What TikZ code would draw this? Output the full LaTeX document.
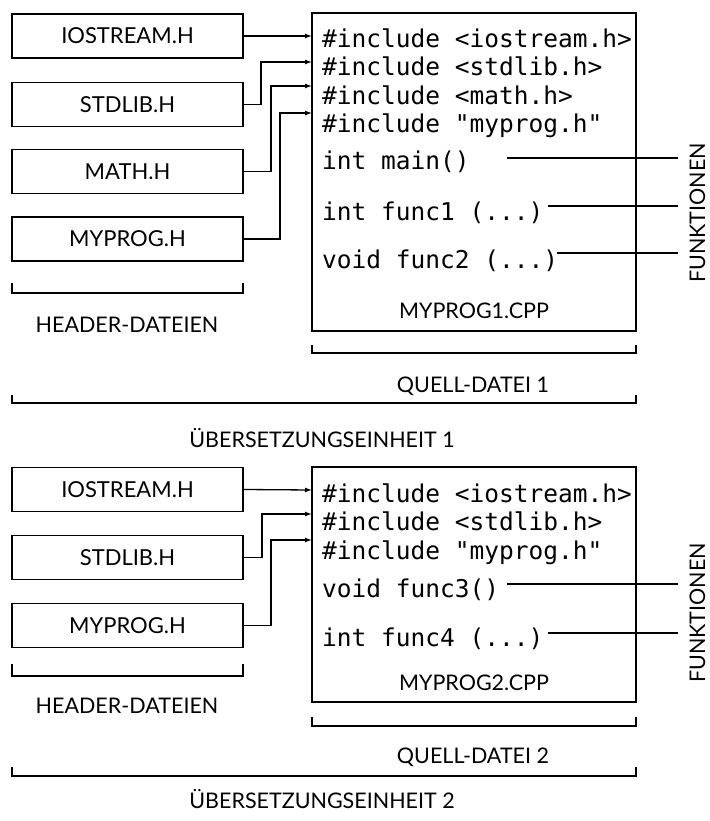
\documentclass[tikz,border=0pt]{standalone}
\usepackage{fontspec}
\setmainfont{Lato}
\setmonofont{DejaVu Sans Mono}
\usetikzlibrary{shapes,arrows.meta,positioning}

\begin{document}
\begin{tikzpicture}[x=1pt,y=-1pt,>={Latex[length=7pt,width=5pt]}]
  \tikzstyle{header} = [rectangle, draw, line width=1.8pt, minimum width=231pt, minimum height=44pt, font=\fontsize{22}{25}\selectfont]
  \tikzstyle{source} = [rectangle, draw, line width=1.8pt, minimum width=324pt, inner sep=0pt]
  \tikzstyle{code} = [anchor=base west, inner sep=0pt, font=\fontsize{24.5}{28}\selectfont\ttfamily]
  \tikzstyle{txt} = [anchor=base, inner sep=0pt, font=\fontsize{21.5}{24}\selectfont]
  \tikzstyle{fkt} = [txt, rotate=90, inner ysep=11pt]
  \tikzstyle{link} = [line width=1.3pt]
  \tikzstyle{brace} = [line width=1.3pt]

  \useasboundingbox (0,0) rectangle (709,821);

  % Uebersetzungseinheit 1
  \node[header] (hio1) at (127.5,36) {IOSTREAM.H};
  \node[header] (hstd1) at (127.5,104.5) {STDLIB.H};
  \node[header] (hmath1) at (127.5,171.5) {MATH.H};
  \node[header] (hmy1) at (127.5,239) {MYPROG.H};

  \node[source, minimum height=318pt] (src1) at (474,172) {};
  \node[code] (inc11) at (322,48) {\#include <iostream.h>};
  \node[code] (inc12) at (322,76) {\#include <stdlib.h>};
  \node[code] (inc13) at (322,105) {\#include <math.h>};
  \node[code] (inc14) at (322,133) {\#include "myprog.h"};
  \node[code] (fmain) at (322,170) {int main()};
  \node[code] (ffunc1) at (322,220) {int func1 (...)};
  \node[code] (ffunc2) at (322,268) {void func2 (...)};
  \node[txt] (cpp1) at (474,318) {MYPROG1.CPP};

  \coordinate (in11) at (312,36);
  \coordinate (in12) at (312,62);
  \coordinate (in13) at (312,86);
  \coordinate (in14) at (312,113);

  \draw[link,->] (hio1.east) -- (in11);
  \draw[link,->] (hstd1.east) -- ++(17,0) |- (in12);
  \draw[link,->] (hmath1.east) -- ++(27,0) |- (in13);
  \draw[link,->] (hmy1.east) -- ++(36,0) |- (in14);

  \node[fkt] (fkt1) at (705,213) {FUNKTIONEN};
  \coordinate (fl11) at (507,158);
  \coordinate (fl12) at (548,206);
  \coordinate (fl13) at (557,253);
  \draw[link] (fl11) -- (fkt1.north |- fl11);
  \draw[link] (fl12) -- (fkt1.north |- fl12);
  \draw[link] (fl13) -- (fkt1.north |- fl13);

  \draw[brace] (12,283) -- (12,293) -- (243,293) -- (243,283);
  \node[txt] (hdr1) at (127,332) {HEADER-DATEIEN};
  \draw[brace] (312,345) -- (312,353) -- (636,353) -- (636,345);
  \node[txt] (qd1) at (473,392) {QUELL-DATEI 1};
  \draw[brace] (12,395) -- (12,403) -- (636,403) -- (636,395);
  \node[txt] (ue1) at (322,447) {ÜBERSETZUNGSEINHEIT 1};

  % Uebersetzungseinheit 2
  \node[header] (hio2) at (127.5,489.5) {IOSTREAM.H};
  \node[header] (hstd2) at (127.5,557.5) {STDLIB.H};
  \node[header] (hmy2) at (127.5,625.5) {MYPROG.H};

  \node[source, minimum height=235pt] (src2) at (474,584.5) {};
  \node[code] (inc21) at (322,502) {\#include <iostream.h>};
  \node[code] (inc22) at (322,530) {\#include <stdlib.h>};
  \node[code] (inc23) at (322,559) {\#include "myprog.h"};
  \node[code] (ffunc3) at (322,597) {void func3()};
  \node[code] (ffunc4) at (322,646) {int func4 (...)};
  \node[txt] (cpp2) at (474,690) {MYPROG2.CPP};

  \coordinate (in21) at (312,490);
  \coordinate (in22) at (312,514);
  \coordinate (in23) at (312,540);

  \draw[link,->] (hio2.east) -- (in21);
  \draw[link,->] (hstd2.east) -- ++(18,0) |- (in22);
  \draw[link,->] (hmy2.east) -- ++(27,0) |- (in23);

  \node[fkt] (fkt2) at (705,613) {FUNKTIONEN};
  \coordinate (fl21) at (507,584);
  \coordinate (fl22) at (548,633);
  \draw[link] (fl21) -- (fkt2.north |- fl21);
  \draw[link] (fl22) -- (fkt2.north |- fl22);

  \draw[brace] (12,664) -- (12,676) -- (243,676) -- (243,664);
  \node[txt] (hdr2) at (127,713) {HEADER-DATEIEN};
  \draw[brace] (312,717) -- (312,726) -- (636,726) -- (636,717);
  \node[txt] (qd2) at (473,763) {QUELL-DATEI 2};
  \draw[brace] (12,767) -- (12,776) -- (636,776) -- (636,767);
  \node[txt] (ue2) at (322,808) {ÜBERSETZUNGSEINHEIT 2};
\end{tikzpicture}
\end{document}
